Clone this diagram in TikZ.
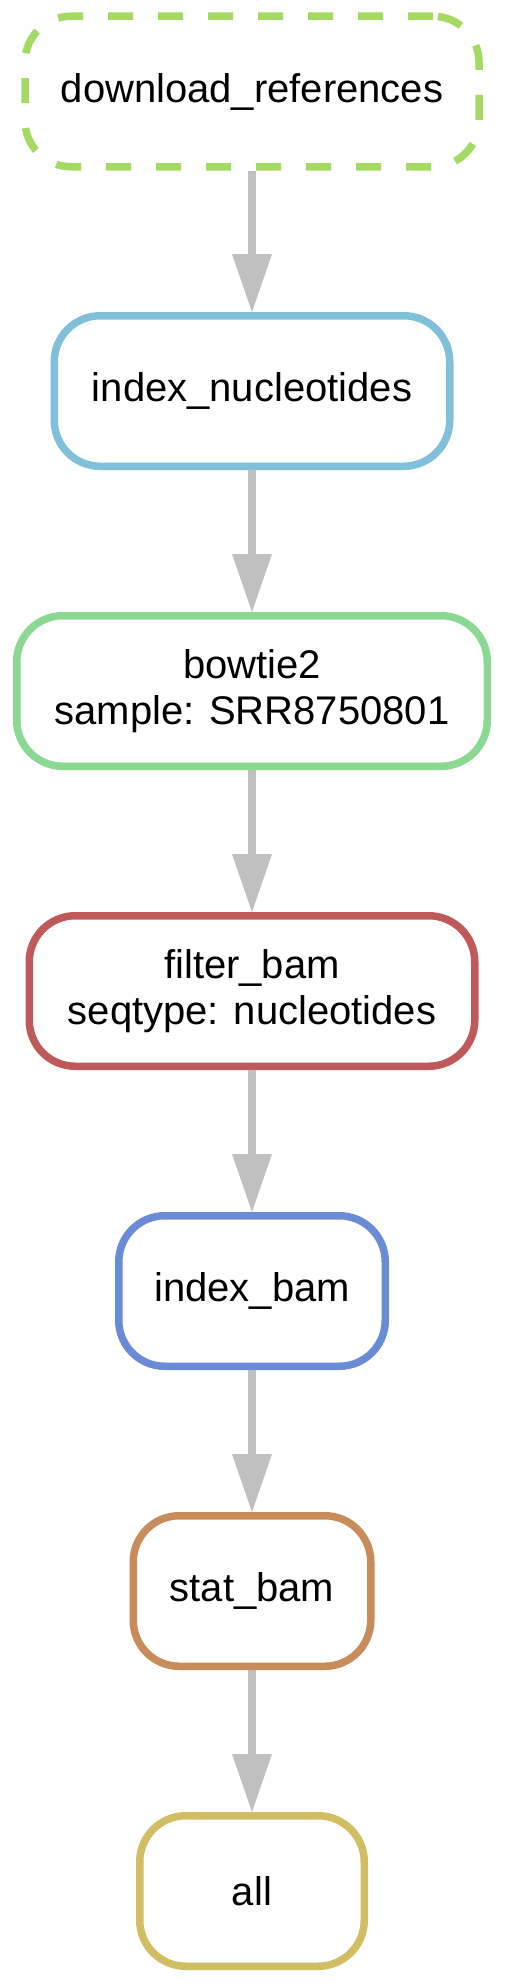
\documentclass[tikz,border=0pt]{standalone}
\usepackage{fontspec}
\setmainfont{Liberation Sans}
\usetikzlibrary{arrows.meta}
\definecolor{cdl}{RGB}{164,217,98}
\definecolor{cidxnuc}{RGB}{128,192,216}
\definecolor{cbowtie}{RGB}{138,216,145}
\definecolor{cfilter}{RGB}{192,90,90}
\definecolor{cidxbam}{RGB}{106,140,214}
\definecolor{cstat}{RGB}{200,140,90}
\definecolor{call}{RGB}{210,190,98}
\definecolor{arrowgray}{RGB}{192,192,192}
\begin{document}
\begin{tikzpicture}[x=1pt,y=-1pt,
  rulebox/.style={draw, rounded corners=46pt, line width=7.5pt, fill=white,
    inner sep=0pt, align=center, minimum height=150.5pt,
    font=\fontsize{40}{46}\selectfont},
  edge/.style={draw=arrowgray, line width=7.5pt,
    -{Triangle[length=58pt,width=40pt,line width=0pt]}}]
\useasboundingbox (0,0) rectangle (504,1983);
\node[rulebox, draw=cdl, dash pattern=on 25pt off 25pt,
  minimum width=454pt] (dl) at (252,91.5) {download\_references};
\node[rulebox, draw=cidxnuc, minimum width=395.5pt] (inuc) at (252,391) {index\_nucleotides};
\node[rulebox, draw=cbowtie, minimum width=470.5pt] (bt) at (252,691) {bowtie2\\sample: SRR8750801};
\node[rulebox, draw=cfilter, minimum width=445.5pt] (fb) at (252,991) {filter\_bam\\seqtype: nucleotides};
\node[rulebox, draw=cidxbam, minimum width=266.5pt] (ib) at (252,1291) {index\_bam};
\node[rulebox, draw=cstat, minimum width=237.5pt] (sb) at (252,1591) {stat\_bam};
\node[rulebox, draw=call, minimum width=224.5pt] (al) at (252,1891) {all};
\draw[edge] (dl) -- (inuc);
\draw[edge] (inuc) -- (bt);
\draw[edge] (bt) -- (fb);
\draw[edge] (fb) -- (ib);
\draw[edge] (ib) -- (sb);
\draw[edge] (sb) -- (al);
\end{tikzpicture}
\end{document}
